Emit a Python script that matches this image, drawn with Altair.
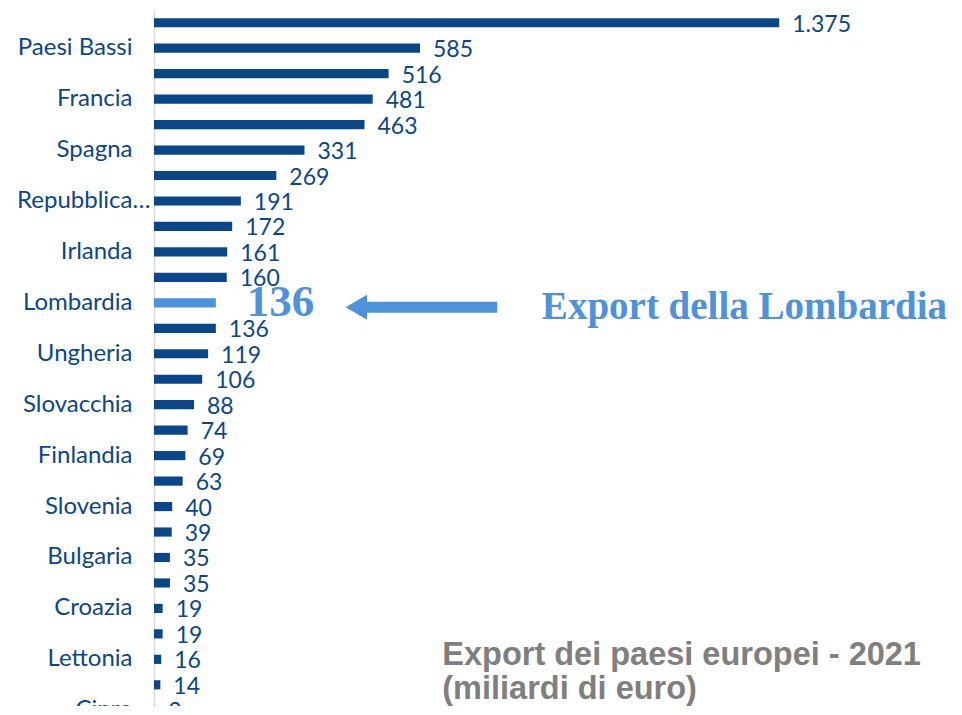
import altair as alt
import pandas as pd

countries = ["Germania", "Paesi Bassi", "Italia", "Francia", "Belgio", "Spagna",
             "Polonia", "Repubblica Ceca", "Austria", "Irlanda", "Svezia", "Lombardia",
             "Danimarca", "Ungheria", "Romania", "Slovacchia", "Portogallo", "Finlandia",
             "Grecia", "Slovenia", "Lituania", "Bulgaria", "Lussemburgo", "Croazia",
             "Estonia", "Lettonia", "Malta", "Cipro"]
values = [1375, 585, 516, 481, 463, 331, 269, 191, 172, 161, 160, 136, 136, 119,
          106, 88, 74, 69, 63, 40, 39, 35, 35, 19, 19, 16, 14, 3]
shown_labels = countries[1::2]
highlight = "Lombardia"

df = pd.DataFrame({"paese": countries, "valore": values})
df["etichetta"] = [f"{v:,}".replace(",", ".") for v in values]
df["evidenza"] = df["paese"] == highlight

DARK = "#0B4689"
LIGHT = "#4E92DB"
GREY = "#7F7F7F"

y_enc = alt.Y(
    "paese:N", sort=countries,
    scale=alt.Scale(range=[0, 713], paddingInner=0.64, paddingOuter=0.32),
    axis=alt.Axis(
        values=shown_labels, title=None, ticks=False,
        labelPadding={"condition": {"test": "datum.value == 'Repubblica Ceca'", "value": 4},
                      "value": 22},
        labelExpr="datum.value == 'Repubblica Ceca' ? 'Repubblica…' : datum.value",
        labelFont="Lato", labelFontSize=24, labelColor=DARK, labelLimit=0,
        domainColor="#D9D9D9", domainWidth=1.5, grid=False),
)
x_enc = alt.X("valore:Q", scale=alt.Scale(domain=[0, 1700], nice=False, zero=True), axis=None)

base = alt.Chart(df)
bars = base.mark_bar().encode(
    x=x_enc, y=y_enc,
    color=alt.when(alt.datum.evidenza).then(alt.value(LIGHT)).otherwise(alt.value(DARK)),
)
labels = base.transform_filter("!datum.evidenza").mark_text(
    align="left", baseline="middle", dx=13, dy=2, font="Lato", fontSize=23, color=DARK
).encode(x=x_enc, y=y_enc, text="etichetta:N")
big = base.transform_filter("datum.evidenza").mark_text(
    align="left", baseline="middle", dx=31, dy=-1, font="Liberation Serif",
    fontWeight="bold", fontSize=45, color=LIGHT
).encode(x=x_enc, y=y_enc, text="etichetta:N")

one = pd.DataFrame({"k": [0]})
shaft = alt.Chart(one).mark_rule(strokeWidth=11, color=LIGHT).encode(
    x=alt.datum(462), x2=alt.datum(755), y=alt.datum(highlight), yOffset=alt.value(9)
)
head = alt.Chart(one).mark_point(shape="triangle-left", filled=True, size=620,
                                 color=LIGHT, opacity=1).encode(
    x=alt.datum(445), y=alt.datum(highlight), yOffset=alt.value(9)
)
lomb_text = alt.Chart(one).mark_text(
    align="left", baseline="middle", dy=4, font="Liberation Serif", fontWeight="bold",
    fontSize=39, color=LIGHT
).encode(x=alt.datum(853), y=alt.datum(highlight), text=alt.value("Export della Lombardia"))
cap1 = alt.Chart(one).mark_text(
    align="left", baseline="middle", dy=-4, font="Liberation Sans", fontWeight="bold",
    fontSize=32.5, color=GREY
).encode(x=alt.datum(634), y=alt.datum("Lettonia"),
         text=alt.value("Export dei paesi europei - 2021"))
cap2 = alt.Chart(one).mark_text(
    align="left", baseline="middle", dy=4, font="Liberation Sans", fontWeight="bold",
    fontSize=32.5, color=GREY
).encode(x=alt.datum(634), y=alt.datum("Malta"), text=alt.value("(miliardi di euro)"))

chart = alt.layer(bars, labels, big, shaft, head, lomb_text, cap1, cap2).properties(
    width=773, height=696,
    autosize=alt.AutoSizeParams(type="none"),
    padding={"left": 146, "top": 2, "right": 27, "bottom": 0},
).configure_view(stroke=None)

chart.save("out.html", embed_options={"renderer": "svg", "actions": False})
